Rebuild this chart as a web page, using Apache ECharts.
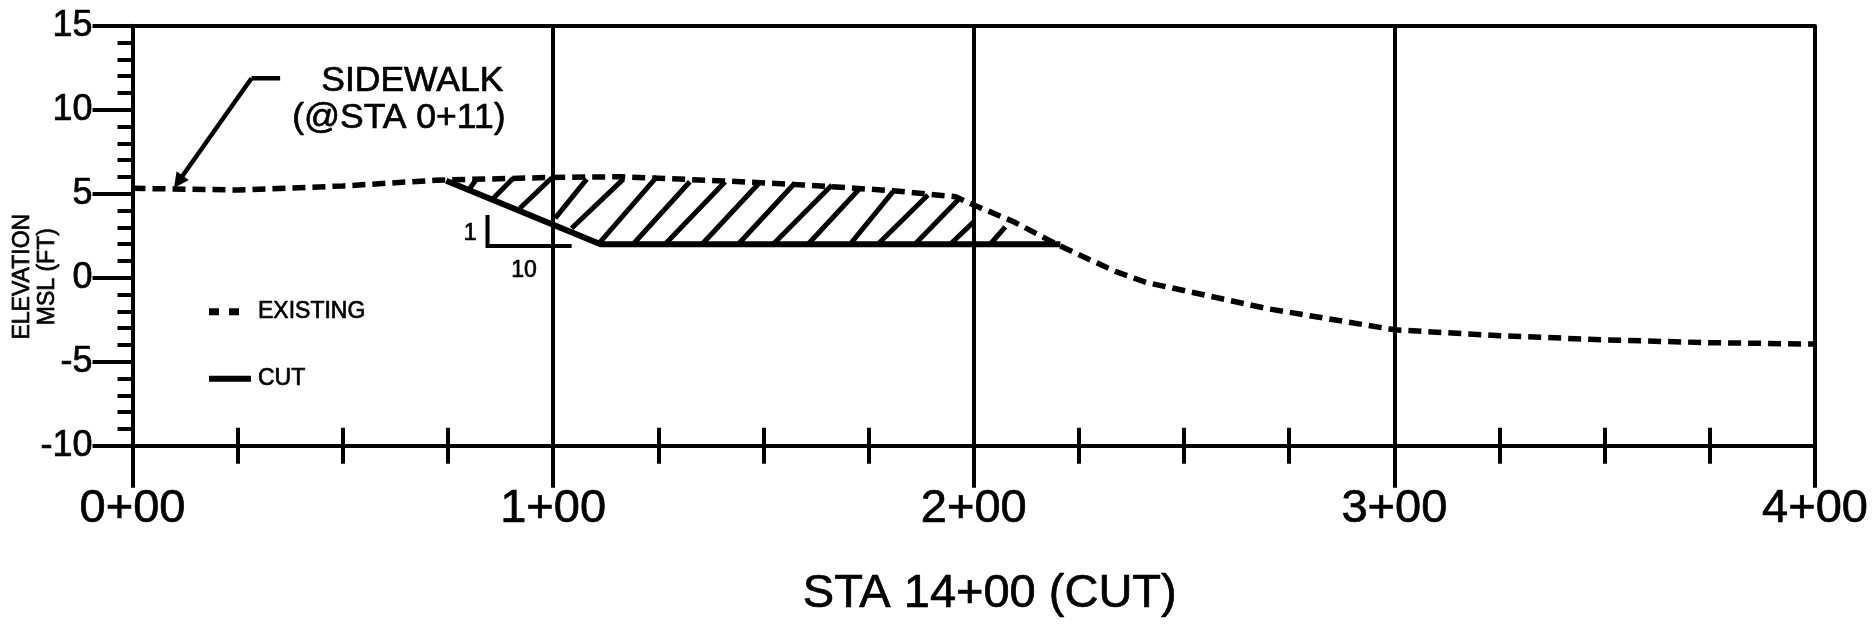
<!DOCTYPE html>
<html>
<head>
<meta charset="utf-8">
<style>html,body{margin:0;padding:0;background:#fff}#c{width:1874px;height:627px}</style>
<script src="https://cdn.jsdelivr.net/npm/echarts@6/dist/echarts.min.js"></script>
</head>
<body>
<div id="c"></div>
<script>
// Chart values (station in hundreds of feet, elevation in ft)
const xTickLabels = ['0+00', '1+00', '2+00', '3+00', '4+00'];
const existing = [[0,5.32],[0.25,5.22],[0.5,5.46],[0.72,5.8],[1.0,5.97],[1.16,6.01],[1.405,5.76],[1.596,5.52],[1.807,5.18],[1.957,4.82],[2.0,4.33],[2.095,3.33],[2.2,1.95],[2.338,0.36],[2.41,-0.28],[2.7,-1.85],[3.0,-3.1],[3.25,-3.45],[3.5,-3.7],[3.75,-3.87],[4.0,-3.95]];
const cut = [[0.746,5.77],[1.113,1.99],[2.206,1.99]];
const hatchFrom = [[0.801,5.28],[0.858,4.73],[0.921,4.13],[1.005,3.55],[1.044,2.94],[1.107,1.99],[1.19,1.99],[1.266,1.99],[1.354,1.99],[1.44,1.99],[1.523,1.99],[1.606,1.99],[1.706,1.99],[1.772,1.99],[1.86,1.99],[1.944,1.99],[2.039,1.99]];
const hatchTo = [[0.818,5.87],[0.905,5.92],[0.997,5.95],[1.08,5.87],[1.167,5.87],[1.247,6.01],[1.325,5.71],[1.409,5.71],[1.492,5.7],[1.575,5.64],[1.663,5.52],[1.73,5.34],[1.808,5.12],[1.891,4.92],[1.967,4.74],[2.0,3.32],[2.075,3.02]];
const leaderLine = [[0.351,11.87],[0.283,11.87]];
const leaderArrow = [[0.283,11.87],[0.109,5.71]];
const slopeMark = [[0.844,3.73],[0.844,1.89],[1.044,1.89]];
const noteTexts = ['SIDEWALK', '(@STA 0+11)'];
const notePoints = [[0.883,11.72],[0.888,9.51]];
const slopeTexts = ['1', '10'];
const slopePoints = [[0.803,2.6],[0.931,0.39]];

const FONT = '"Liberation Sans", Arial, sans-serif';
const INK = '#000';
const HEAVY = {textBorderColor: '#000', textBorderWidth: 0.7};
const chart = echarts.init(document.getElementById('c'), null, {renderer: 'canvas'});
const lineSeg = (a, b) => ({coords: [a, b]});

chart.setOption({
  animation: false,
  backgroundColor: '#fff',
  grid: {left: 132.5, right: 59, top: 25.7, bottom: 181.3, containLabel: false, outerBoundsMode: 'none'},
  legend: [
    {left: 209, top: 300, padding: 0, itemWidth: 30, itemHeight: 20,
     data: [{name: 'EXISTING', icon: 'path://M0 0H10V7H0Z M20 0H30V7H20Z', itemStyle: {color: INK}}],
     textStyle: {fontFamily: FONT, fontSize: 23, color: INK, padding: [0,0,0,14], ...HEAVY}},
    {left: 209, top: 367, padding: 0, itemWidth: 42, itemHeight: 20,
     data: [{name: 'CUT', icon: 'path://M0 0H42V6H0Z', itemStyle: {color: INK}}],
     textStyle: {fontFamily: FONT, fontSize: 23, color: INK, padding: [0,0,0,2], ...HEAVY}}
  ],
  xAxis: [
    {type: 'value', min: 0, max: 4, interval: 1, position: 'bottom',
     axisLine: {show: true, onZero: false, lineStyle: {color: INK, width: 4}},
     axisTick: {show: true, length: 42, lineStyle: {color: INK, width: 4}},
     minorTick: {show: true, splitNumber: 4, length: 18, lineStyle: {color: INK, width: 4}},
     splitLine: {show: true, lineStyle: {color: INK, width: 4}},
     axisLabel: {show: true, margin: 40, fontFamily: FONT, fontSize: 47, color: INK, hideOverlap: false,
       showMinLabel: true, showMaxLabel: true, formatter: (v) => xTickLabels[Math.round(v)], ...HEAVY},
     name: 'STA 14+00 (CUT)', nameLocation: 'middle', nameGap: 125, nameMoveOverlap: false,
     nameTextStyle: {fontFamily: FONT, fontSize: 47, color: INK, padding: [0,0,0,32], ...HEAVY}},
    {type: 'value', min: 0, max: 4, interval: 0.25, position: 'bottom',
     axisLine: {show: false, onZero: false}, axisLabel: {show: false}, splitLine: {show: false},
     axisTick: {show: true, inside: true, length: 18, lineStyle: {color: INK, width: 4}}},
    {type: 'value', min: 0, max: 4, interval: 1, position: 'top',
     axisLine: {show: true, onZero: false, lineStyle: {color: INK, width: 4}},
     axisTick: {show: false}, axisLabel: {show: false}, splitLine: {show: false}}
  ],
  yAxis: {
    type: 'value', min: -10, max: 15, interval: 5,
    axisLine: {show: true, onZero: false, lineStyle: {color: INK, width: 4}},
    axisTick: {show: true, length: 40, lineStyle: {color: INK, width: 4}},
    minorTick: {show: true, splitNumber: 5, length: 15, lineStyle: {color: INK, width: 4}},
    splitLine: {show: false},
    axisLabel: {show: true, margin: 40, fontFamily: FONT, fontSize: 36, color: INK, hideOverlap: false,
      showMinLabel: true, showMaxLabel: true, ...HEAVY},
    name: 'ELEVATION\nMSL (FT)', nameLocation: 'middle', nameRotate: 90, nameGap: 72, nameMoveOverlap: false,
    nameTextStyle: {fontFamily: FONT, fontSize: 23, lineHeight: 25, color: INK, align: 'center', padding: [0,82,0,0], ...HEAVY}
  },
  series: [
    {name: 'HATCH', type: 'lines', coordinateSystem: 'cartesian2d', z: 2, polyline: false,
     lineStyle: {color: INK, width: 5, opacity: 1, curveness: 0},
     data: hatchFrom.map((p, i) => lineSeg(p, hatchTo[i]))},
    {name: 'EXISTING', type: 'line', z: 4, showSymbol: false, symbol: 'none', smooth: false, clip: false,
     itemStyle: {color: INK}, lineStyle: {color: INK, width: 5.5, type: [13, 7], cap: 'butt'}, data: existing},
    {name: 'CUT', type: 'line', z: 3, showSymbol: false, symbol: 'none', smooth: false,
     itemStyle: {color: INK}, lineStyle: {color: INK, width: 6, join: 'miter'}, data: cut},
    {name: 'SLOPE', type: 'line', z: 3, showSymbol: false, symbol: 'none',
     lineStyle: {color: INK, width: 4, join: 'miter'}, data: slopeMark},
    {name: 'LEADER', type: 'line', z: 3, showSymbol: false, symbol: 'none',
     lineStyle: {color: INK, width: 4.5}, data: leaderLine},
    {name: 'ARROW', type: 'lines', coordinateSystem: 'cartesian2d', z: 3,
     symbol: ['none', 'triangle'], symbolSize: 15,
     lineStyle: {color: INK, width: 4.5, opacity: 1, curveness: 0},
     itemStyle: {color: INK},
     data: [lineSeg(leaderArrow[0], leaderArrow[1])]},
    {name: 'NOTE', type: 'scatter', z: 5, symbolSize: 1, itemStyle: {color: 'transparent', opacity: 1}, silent: true,
     label: {show: true, position: 'left', distance: 0, fontFamily: FONT, fontSize: 35.5, color: INK, ...HEAVY,
       formatter: (p) => noteTexts[p.dataIndex]},
     data: notePoints},
    {name: 'SLOPETEXT', type: 'scatter', z: 5, symbolSize: 1, itemStyle: {color: 'transparent', opacity: 1}, silent: true,
     label: {show: true, position: 'inside', fontFamily: FONT, fontSize: 23, color: INK, ...HEAVY,
       formatter: (p) => slopeTexts[p.dataIndex]},
     data: slopePoints}
  ]
});
</script>
</body>
</html>
